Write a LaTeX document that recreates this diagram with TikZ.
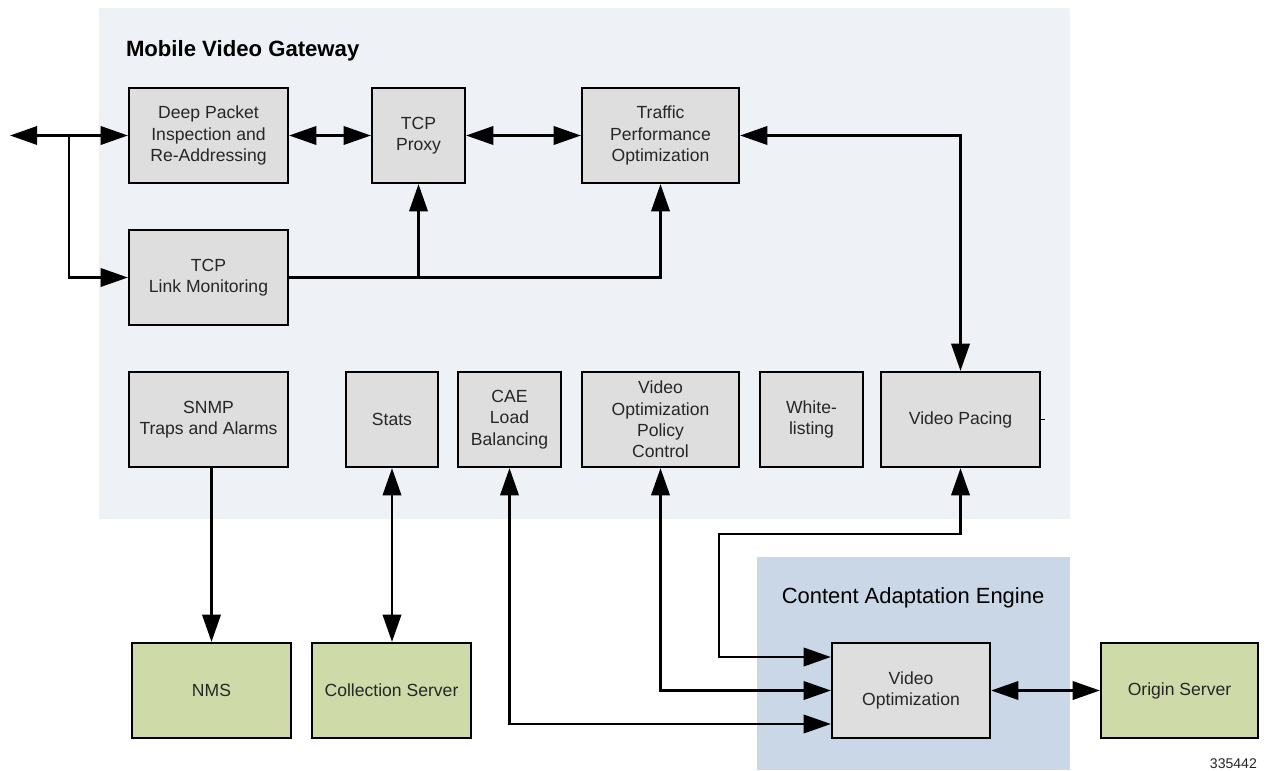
\documentclass[tikz,border=0pt]{standalone}
\usepackage{fontspec}
\setmainfont{Liberation Sans}
\usepackage{tikz}
\usetikzlibrary{arrows.meta, positioning, calc}

\definecolor{gwbg}{HTML}{EEF1F6}
\definecolor{caebg}{HTML}{C9D7E7}
\definecolor{boxgray}{HTML}{DEDEDE}
\definecolor{srvgreen}{HTML}{CEDBA9}
\definecolor{txt}{HTML}{262626}

\begin{document}
\begin{tikzpicture}[
  x=0.02cm, y=-0.02cm,
  > = {Triangle[length=15.5pt,width=10.5pt]},
  line width=1.3pt,
  font=\fontsize{10}{12.2}\selectfont,
  block/.style = {draw, fill=boxgray, text=txt, align=center, inner sep=2pt, minimum height=1.9cm},
  server/.style = {block, fill=srvgreen, minimum width=3.18cm}
  ]
  \useasboundingbox (0,0) rectangle (1273,770);
  \fill[gwbg] (99,8) rectangle (1070,519);
  \fill[caebg] (757,557) rectangle (1070,770);
  \node[anchor=base west, font=\fontsize{12.6}{15}\selectfont\bfseries] (gwtitle) at (119,57) {Mobile Video Gateway};
  \node[anchor=base, font=\fontsize{12.5}{15}\selectfont] (caetitle) at (913,603) {Content Adaptation Engine};

  \node[block, minimum width=3.18cm] (dpi) at (208.5,135.5) {Deep Packet\\Inspection and\\Re-Addressing};
  \node[block, minimum width=1.86cm] (proxy) at (418.5,135.5) {TCP\\Proxy};
  \node[block, minimum width=3.14cm] (tpo) at (660.5,135.5) {Traffic\\Performance\\Optimization};
  \node[block, minimum width=3.18cm] (linkmon) at (208.5,277.5) {TCP\\Link Monitoring};

  \node[block, minimum width=3.18cm] (snmp) at (208.5,419.5) {SNMP\\Traps and Alarms};
  \node[block, minimum width=1.84cm] (stats) at (392,419.5) {Stats};
  \node[block, minimum width=2.06cm] (calb) at (509.5,419.5) {CAE\\Load\\Balancing};
  \node[block, minimum width=3.14cm] (vopc) at (660.5,419.5) {Video\\Optimization\\Policy\\Control};
  \node[block, minimum width=2.06cm] (white) at (811.5,419.5) {White-\\listing};
  \node[block, minimum width=3.18cm] (pacing) at (960.5,419.5) {Video Pacing};

  \node[server] (nms) at (211.5,690.5) {NMS};
  \node[server] (coll) at (391.5,690.5) {Collection Server};
  \node[block, minimum width=3.16cm] (vo) at (911,690.5) {Video\\Optimization};
  \node[server, minimum width=3.14cm] (origin) at (1179.5,690.5) {Origin Server};
  \node[anchor=base east, font=\fontsize{8}{10}\selectfont, text=txt, inner sep=0pt] (fig) at (1258,768) {335442};

  \coordinate (ext) at (10,135.5);
  \coordinate (split) at (69,135.5);
  \coordinate (turn) at (719,534);

  \draw[<->] (ext) -- (dpi.west);
  \draw[->] (split) |- (linkmon.west);
  \draw[<->] (dpi) -- (proxy);
  \draw[<->] (proxy) -- (tpo);
  \draw[->] (linkmon.east) -| (tpo.south);
  \draw[->] (linkmon.east -| proxy.south) -- (proxy.south);
  \draw[<->] (tpo.east) -| (pacing.north);
  \draw[line width=0.4pt] (pacing.east) -- ++(4,0);

  \draw[->] (snmp.south -| nms.north) -- (nms.north);
  \draw[<->] (stats.south) -- (stats.south |- coll.north);
  \draw[<->] (calb.south) |- ([yshift=-0.67cm]vo.west);
  \draw[<->] (vopc.south) |- (vo.west);
  \draw[<->] (pacing.south) |- (turn) |- ([yshift=0.67cm]vo.west);
  \draw[<->] (vo) -- (origin);
\end{tikzpicture}
\end{document}
